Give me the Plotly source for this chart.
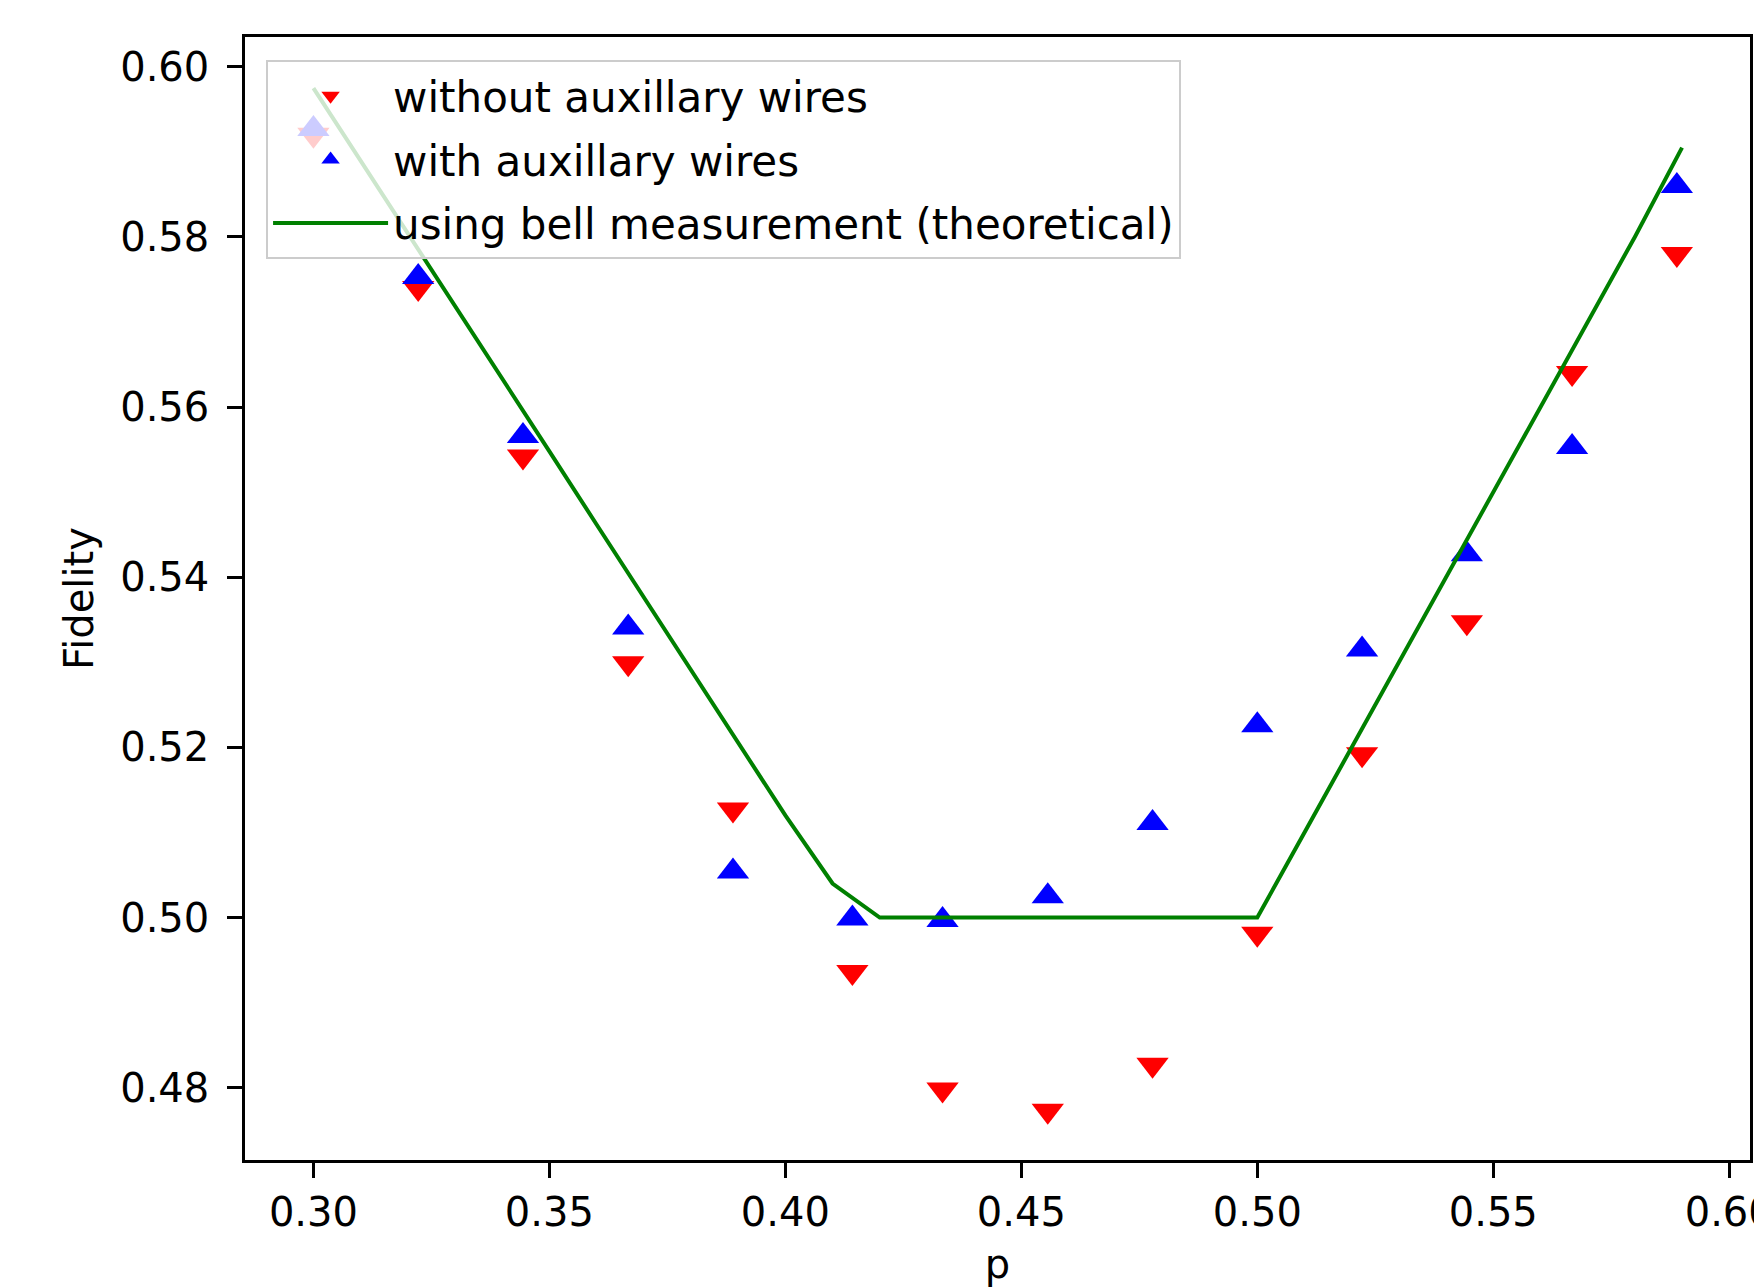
import plotly.graph_objects as go

# Data
p_points = [0.3, 0.3222, 0.3444, 0.3667, 0.3889, 0.4142, 0.4333,
            0.4556, 0.4778, 0.5, 0.5222, 0.5444, 0.5667, 0.5889]
fid_without = [0.5920, 0.5740, 0.5542, 0.5299, 0.5127, 0.4936, 0.4798,
               0.4773, 0.4827, 0.4981, 0.5192, 0.5347, 0.5640, 0.5780]
fid_with = [0.5927, 0.5753, 0.5566, 0.5341, 0.5054, 0.4999, 0.4997,
            0.5025, 0.5111, 0.5226, 0.5315, 0.5427, 0.5553, 0.5860]

p_theory = [0.30, 0.31, 0.32, 0.33, 0.34, 0.35, 0.36, 0.37, 0.38, 0.39,
            0.40, 0.41, 0.42, 0.43, 0.44, 0.45, 0.46, 0.47, 0.48, 0.49,
            0.50, 0.51, 0.52, 0.53, 0.54, 0.55, 0.56, 0.57, 0.58, 0.59]
fid_theory = [0.5975, 0.5890, 0.5804, 0.5719, 0.5633, 0.5548, 0.5462, 0.5377, 0.5291, 0.5206,
              0.5120, 0.5040, 0.5000, 0.5000, 0.5000, 0.5000, 0.5000, 0.5000, 0.5000, 0.5000,
              0.5000, 0.5100, 0.5200, 0.5300, 0.5400, 0.5500, 0.5600, 0.5700, 0.5800, 0.5905]

x_ticks = [0.30, 0.35, 0.40, 0.45, 0.50, 0.55, 0.60]
y_ticks = [0.48, 0.50, 0.52, 0.54, 0.56, 0.58, 0.60]

FONT = "DejaVu Sans"
FS = 40
LFS = 42

# the page body has an 8px margin; compensate so the plot sits where the reference has it
OFF = 8
W, H = 1762 - OFF, 1287 - OFF

fig = go.Figure()
fig.add_trace(go.Scatter(
    x=p_points, y=fid_without, mode="markers", name="without auxillary wires",
    legendgroup="a",
    marker=dict(symbol="triangle-down", color="#ff0000", size=28, line=dict(width=0)),
))
fig.add_trace(go.Scatter(
    x=p_points, y=fid_with, mode="markers", name="with auxillary wires",
    legendgroup="b",
    marker=dict(symbol="triangle-up", color="#0000ff", size=28, line=dict(width=0)),
))
fig.add_trace(go.Scatter(
    x=p_theory, y=fid_theory, mode="lines", name="using bell measurement (theoretical)",
    legendgroup="c",
    line=dict(color="#008000", width=4),
))

axis_common = dict(
    showgrid=False, zeroline=False, showline=True, linecolor="black", linewidth=2.5,
    mirror=True, ticks="outside", ticklen=15, tickwidth=2.5, tickcolor="black",
    tickfont=dict(family=FONT, size=FS, color="black"),
    ticklabeloverflow="allow",
)

fig.update_layout(
    width=W, height=H,
    margin=dict(l=245 - OFF, r=12, t=37 - OFF, b=127, autoexpand=False),
    paper_bgcolor="white", plot_bgcolor="white",
    font=dict(family=FONT, size=FS, color="black"),
    xaxis=dict(range=[0.2855, 0.6044], tickvals=x_ticks, tickformat=".2f",
               title=dict(text="p", font=dict(family=FONT, size=FS), standoff=19),
               **axis_common),
    yaxis=dict(range=[0.4715, 0.6035], tickvals=y_ticks, tickformat=".2f",
               ticklabelstandoff=10,
               title=dict(text="Fidelity", font=dict(family=FONT, size=FS), standoff=15),
               **axis_common),
    legend=dict(
        x=0.014, y=0.9795, xanchor="left", yanchor="top",
        bgcolor="rgba(255,255,255,0.8)", bordercolor="#cccccc", borderwidth=2,
        font=dict(family=FONT, size=LFS, color="black"),
        itemwidth=115, tracegroupgap=6, traceorder="grouped",
    ),
    showlegend=True,
)

fig.write_html("out.html")
